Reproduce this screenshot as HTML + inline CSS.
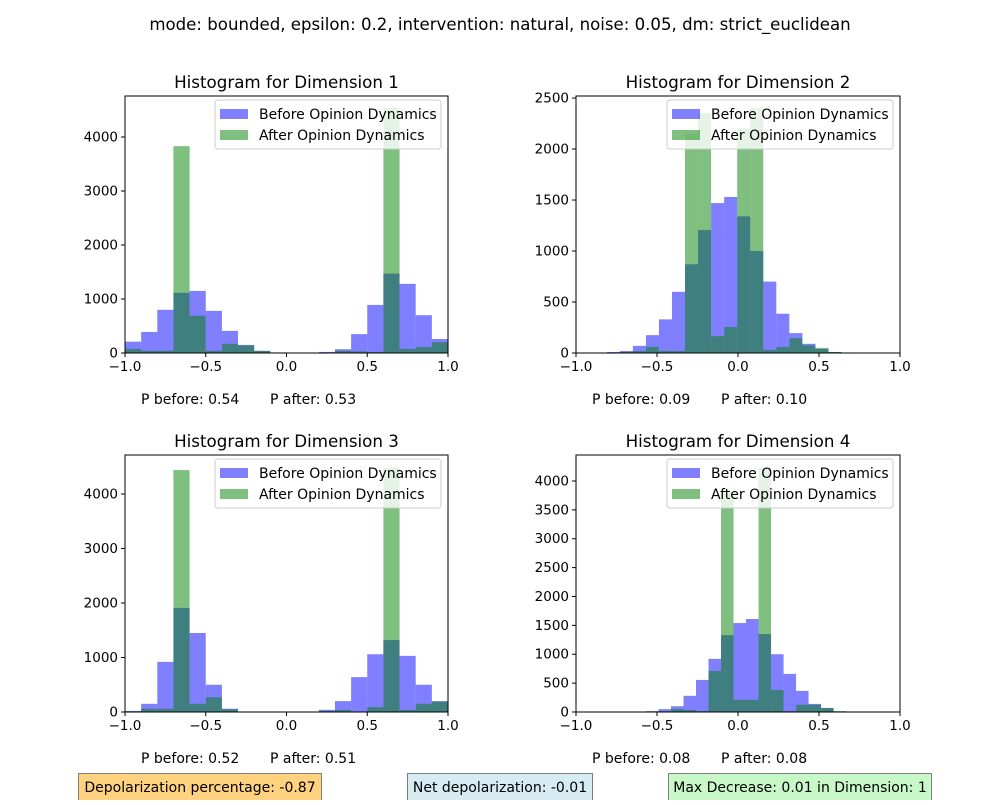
<!DOCTYPE html>
<html><head><meta charset="utf-8">
<style>
body{margin:0;background:#fff;}
svg text{font-family:"DejaVu Sans","Liberation Sans",sans-serif;fill:#000;}
</style></head>
<body>
<svg id="fig" width="1000" height="800" viewBox="0 0 1000 800" xmlns="http://www.w3.org/2000/svg">
<rect width="1000" height="800" fill="#fff"/>
<text x="500" y="30" font-size="16.6" text-anchor="middle">mode: bounded, epsilon: 0.2, intervention: natural, noise: 0.05, dm: strict_euclidean</text>
<g>
<rect x="78.5" y="773.5" width="243" height="30" fill="#ffd280" stroke="#808080"/>
<text x="200" y="792" font-size="14" text-anchor="middle">Depolarization percentage: -0.87</text></g>
<g>
<rect x="407.5" y="773.5" width="185" height="30" fill="#d6ecf2" stroke="#808080"/>
<text x="500" y="792" font-size="14" text-anchor="middle">Net depolarization: -0.01</text></g>
<g>
<rect x="668.5" y="773.5" width="263" height="30" fill="#c8f7c8" stroke="#808080"/>
<text x="800" y="792" font-size="14" text-anchor="middle">Max Decrease: 0.01 in Dimension: 1</text></g>
</svg>
<script>
// Dimension 1
const d1Start=-1, d1Width=0.1;
const d1Before=[210,390,800,1115,1150,780,410,150,40,10,0,0,20,70,350,890,1470,1280,700,260];
const d1After=[75,40,40,3830,690,40,170,140,40,10,0,0,5,40,30,20,4540,75,110,200];
const d1Ticks=[0,1000,2000,3000,4000];
// Dimension 2
const d2Start=-0.81, d2Width=0.0805;
const d2Before=[10,20,70,175,330,600,870,1205,1470,1530,1340,1000,700,385,195,90,40,10,5];
const d2After=[0,10,20,60,20,20,2150,2350,165,255,2200,2400,30,60,145,75,50,10,5];
const d2Ticks=[0,500,1000,1500,2000,2500];
// Dimension 3
const d3Start=-1, d3Width=0.1;
const d3Before=[20,150,920,1910,1450,500,60,0,0,0,0,0,40,200,640,1060,1320,1030,500,200];
const d3After=[10,60,60,4440,150,270,50,0,0,0,0,0,20,40,10,90,4480,40,150,190];
const d3Ticks=[0,1000,2000,3000,4000];
// Dimension 4
const d4Start=-0.568, d4Width=0.0772;
const d4Before=[15,50,100,280,555,920,1330,1540,1610,1350,1000,660,365,140,70,10];
const d4After=[0,15,50,35,15,710,3800,210,210,4230,380,15,125,125,70,15];
const d4Ticks=[0,500,1000,1500,2000,2500,3000,3500,4000];
const xTicks=[-1,-0.5,0,0.5,1];
const pBefore=["0.54","0.09","0.52","0.08"];
const pAfter=["0.53","0.10","0.51","0.08"];

const NS="http://www.w3.org/2000/svg";
const fig=document.getElementById('fig');
function mk(tag,attrs,parent){const e=document.createElementNS(NS,tag);for(const k in attrs)e.setAttribute(k,attrs[k]);(parent||fig).appendChild(e);return e;}

const panels=[
 {L:125,T:96,W:323,H:257,ymax:4759,start:d1Start,width:d1Width,before:d1Before,after:d1After,ticks:d1Ticks,n:1},
 {L:576,T:96,W:324,H:257,ymax:2520,start:d2Start,width:d2Width,before:d2Before,after:d2After,ticks:d2Ticks,n:2},
 {L:125,T:455,W:323,H:257,ymax:4716,start:d3Start,width:d3Width,before:d3Before,after:d3After,ticks:d3Ticks,n:3},
 {L:576,T:455,W:324,H:257,ymax:4450,start:d4Start,width:d4Width,before:d4Before,after:d4After,ticks:d4Ticks,n:4}
];
panels.forEach((p,pi)=>{
 const g=mk('g',{});
 
 
 const xs=v=>p.L+(v+1)/2*p.W;
 const ys=v=>p.T+p.H-v/p.ymax*p.H;
 const title=mk('text',{x:p.L+p.W/2,y:p.T-8,'font-size':16.7,'text-anchor':'middle'},g);
 title.textContent='Histogram for Dimension '+p.n;
 
 
 const clip=mk('g',{},g);
 [[p.before,'rgba(0,0,255,0.5)','before'],[p.after,'rgba(0,128,0,0.5)','after']].forEach(([arr,col,nm])=>{
  arr.forEach((v,i)=>{
   if(v<=0)return;
   const x0=xs(p.start+i*p.width), x1=xs(p.start+(i+1)*p.width);
   const r=mk('rect',{x:x0,y:ys(v),width:x1-x0,height:ys(0)-ys(v),fill:col},clip);
   
   
  });
 });
 mk('rect',{x:p.L,y:p.T,width:p.W,height:p.H,fill:'none',stroke:'#000','stroke-width':1},g);
 xTicks.forEach(t=>{
  const x=xs(t);
  mk('line',{x1:x,x2:x,y1:p.T+p.H,y2:p.T+p.H+4,stroke:'#000'},g);
  const tx=mk('text',{x:x,y:p.T+p.H+18,'font-size':13.5,'text-anchor':'middle'},g);
  tx.textContent=t.toFixed(1).replace('-','\u2212');
  
  
 });
 p.ticks.forEach(t=>{
  const y=ys(t);
  mk('line',{x1:p.L-4,x2:p.L,y1:y,y2:y,stroke:'#000'},g);
  const tx=mk('text',{x:p.L-7,y:y+4.5,'font-size':13.5,'text-anchor':'end'},g);
  tx.textContent=String(t);
  
  
 });
 const lg=mk('g',{},g);
 
 
 const lx=p.L+p.W-233, ly=p.T+4;
 mk('rect',{x:lx,y:ly,width:226,height:49,rx:3,fill:'rgba(255,255,255,0.8)',stroke:'#ccc'},lg);
 mk('rect',{x:lx+5,y:ly+9,width:28,height:10,fill:'rgba(0,0,255,0.5)'},lg);
 mk('rect',{x:lx+5,y:ly+30,width:28,height:10,fill:'rgba(0,128,0,0.5)'},lg);
 const t1=mk('text',{x:lx+44,y:ly+19,'font-size':14},lg);t1.textContent='Before Opinion Dynamics';
 const t2=mk('text',{x:lx+44,y:ly+40,'font-size':14},lg);t2.textContent='After Opinion Dynamics';
 const pb=mk('text',{x:p.L+16,y:p.T+p.H+51,'font-size':14},g);
 pb.textContent='P before: '+pBefore[pi];
 
 
 const pa=mk('text',{x:p.L+145,y:p.T+p.H+51,'font-size':14},g);
 pa.textContent='P after: '+pAfter[pi];
 
 
});
</script>
</body></html>
